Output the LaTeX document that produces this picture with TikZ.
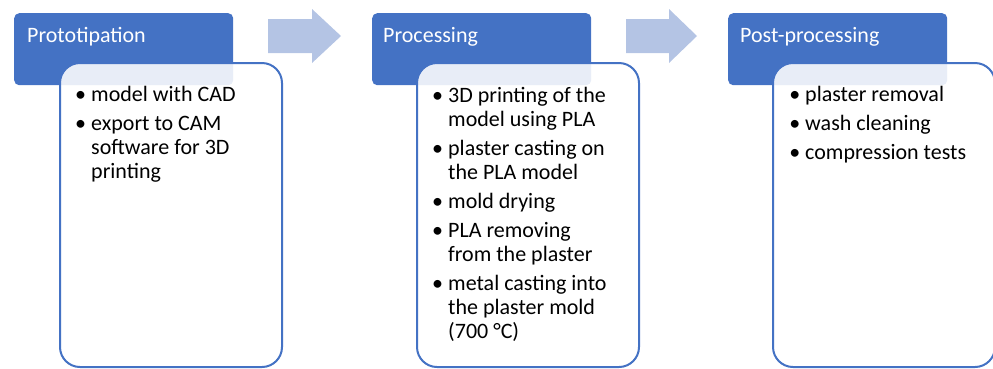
\documentclass[tikz,border=0pt]{standalone}
\usepackage{fontspec}
\setmainfont{Carlito}
\definecolor{accent}{HTML}{4472C4}
\definecolor{arrowblue}{RGB}{180,196,228}
\newcommand\bul{\leavevmode\llap{\textbullet\hspace{5pt}}}
\newcommand\itemgap{\\[5pt]}
\newcommand\steplist[1]{\parbox[t]{200pt}{\raggedright\fontsize{22}{24}\selectfont\lineskiplimit=-100pt #1}}
\tikzset{
  headbox/.style={draw=none, fill=accent, rounded corners=5pt, minimum width=219pt, minimum height=72pt, anchor=north west, inner sep=0pt},
  headtext/.style={text=white, font=\fontsize{22}{24}\selectfont, anchor=base west, inner sep=0pt},
  bodybox/.style={draw=accent, line width=2pt, fill=white, fill opacity=0.88, rounded corners=20pt, minimum width=222pt, minimum height=304pt, anchor=north west, inner sep=0pt},
  listtext/.style={text=black, anchor=base west, inner sep=0pt},
  flowarrow/.style={fill=arrowblue, draw=none}
}
\begin{document}
\begin{tikzpicture}[x=1pt, y=-1pt]
  \useasboundingbox (0,0) rectangle (993,368);
  \clip (0,0) rectangle (993,368);

  % step headers
  \node[headbox] (h1) at (14,13) {};
  \node[headbox] (h2) at (372,13) {};
  \node[headbox] (h3) at (728,13) {};

  % step bodies, laid over the headers
  \node[bodybox] (b1) at (59,62) {};
  \node[bodybox] (b2) at (416,62) {};
  \node[bodybox] (b3) at (772,62) {};

  % header titles
  \node[headtext] (t1) at ([shift={(13,29)}]h1.north west) {Prototipation};
  \node[headtext] (t2) at ([shift={(11,29)}]h2.north west) {Processing};
  \node[headtext] (t3) at ([shift={(12,29)}]h3.north west) {Post-processing};

  % step contents
  \node[listtext] (l1) at ([shift={(32,39)}]b1.north west) {\steplist{%
    \bul model with CAD\itemgap
    \bul export to CAM\\
    software for 3D\\
    printing}};
  \node[listtext] (l2) at ([shift={(32,40)}]b2.north west) {\steplist{%
    \bul 3D printing of the\\
    model using PLA\itemgap
    \bul plaster casting on\\
    the PLA model\itemgap
    \bul mold drying\itemgap
    \bul PLA removing\\
    from the plaster\itemgap
    \bul metal casting into\\
    the plaster mold\\
    (700 °C)}};
  \node[listtext] (l3) at ([shift={(33,39)}]b3.north west) {\steplist{%
    \bul plaster removal\itemgap
    \bul wash cleaning\itemgap
    \bul compression tests}};

  % arrows between the steps
  \fill[flowarrow] (268,19) -- (312,19) -- (312,9) -- (341,36) -- (312,63) -- (312,53) -- (268,53) -- cycle;
  \fill[flowarrow] (626,19) -- (669,19) -- (669,9) -- (697,36) -- (669,63) -- (669,53) -- (626,53) -- cycle;
\end{tikzpicture}
\end{document}
